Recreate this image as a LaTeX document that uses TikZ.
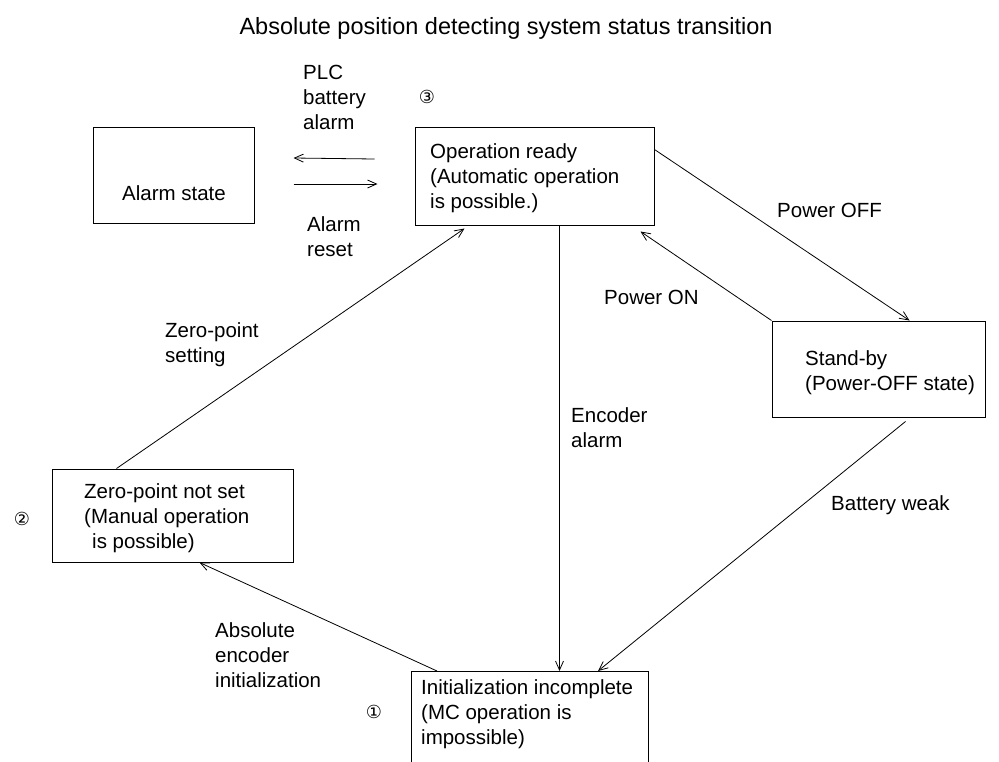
\documentclass[tikz,border=0pt]{standalone}
\usepackage{fontspec}
\setmainfont{Liberation Sans}
\newfontfamily\circfont{DejaVu Sans}
\usetikzlibrary{arrows.meta,calc}

\begin{document}
\begin{tikzpicture}[x=1pt,y=-1pt,
  every node/.style={font=\fontsize{20.5}{25}\selectfont},
  statebox/.style={draw, line width=1pt, rectangle, inner sep=0pt},
  lbl/.style={anchor=west, align=left, inner sep=0pt},
  num/.style={inner sep=0pt, font=\circfont\fontsize{18}{20}\selectfont},
  arr/.style={-{Straight Barb[length=9pt,width=8pt]}, line width=0.8pt},
]
\clip (0,0) rectangle (999,761);

% title
\node[inner sep=0pt, font=\fontsize{23.5}{28}\selectfont] (title) at (506,28) {Absolute position detecting system status transition};

% state boxes
\node[statebox, minimum width=161pt, minimum height=96pt] (alarm) at (173.5,175) {};
\node[statebox, minimum width=239pt, minimum height=98pt] (op)    at (534.5,176) {};
\node[statebox, minimum width=213pt, minimum height=96pt] (stby)  at (878.5,369) {};
\node[statebox, minimum width=241pt, minimum height=93pt] (zero)  at (172.5,515.5) {};
\node[statebox, minimum width=237pt, minimum height=130pt, anchor=north west] (init) at (411,671) {};

% texts inside the boxes
\node[inner sep=0pt] (alarmtxt) at (174,193) {Alarm state};
\node[lbl] (optxt) at (430,178) {Operation ready\\(Automatic operation\\is possible.)};
\node[lbl] (stbytxt) at (805,373) {Stand-by\\(Power-OFF state)};
\node[lbl] (zerotxt) at (84,518) {Zero-point not set\\(Manual operation\\\hspace{8pt}is possible)};
\node[lbl] (inittxt) at (421,714) {Initialization incomplete\\(MC operation is\\impossible)};

% state numbers
\node[num] (n1) at (374,712) {①};
\node[num] (n2) at (22,519) {②};
\node[num] (n3) at (427,97) {③};

% transitions
\draw[arr] ($(op.west)+(-40,-17)$) -- ($(alarm.east)+(39,-17)$);
\draw[arr] ($(alarm.east)+(39,9)$) -- ($(op.west)+(-37,8)$);
\draw[arr] ($(op.north east)+(0,23)$) -- ($(stby.north west)+(138,0)$);
\draw[arr] (stby.north west) -- ($(op.south east)+(-14,6)$);
\coordinate (encTop) at ($(op.south west)+(145,0)$);
\draw[arr] (encTop) -- (encTop |- init.north);
\draw[arr] ($(stby.south west)+(134,4)$) -- ($(init.north west)+(187,0)$);
\draw[arr] ($(zero.north west)+(65,0)$) -- ($(op.south west)+(50,3)$);
\draw[arr] ($(init.north west)+(26,0)$) -- ($(zero.south west)+(148,0)$);

% transition labels
\node[lbl] (plc) at (303,97) {PLC\\battery\\alarm};
\node[lbl] (reset) at (307,237) {Alarm\\reset};
\node[lbl] (poff) at (777,210) {Power OFF};
\node[lbl] (pon) at (604,297) {Power ON};
\node[lbl] (enc) at (571,428) {Encoder\\alarm};
\node[lbl] (bat) at (831,505) {Battery weak};
\node[lbl] (zset) at (165,345) {Zero-point\\setting};
\node[lbl] (absinit) at (215,655) {Absolute\\encoder\\initialization};
\end{tikzpicture}
\end{document}
